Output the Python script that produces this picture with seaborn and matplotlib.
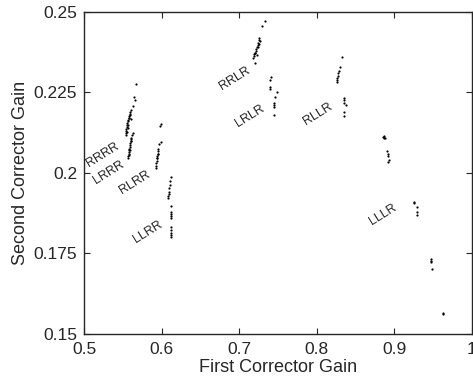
import pandas as pd
import matplotlib
matplotlib.use('Agg')
import matplotlib.pyplot as plt
import seaborn as sns

# point clusters (first gain, second gain)
rrrr_x = [0.5666, 0.5640, 0.5655, 0.5628, 0.5610, 0.5598, 0.5590, 0.5582, 0.5575, 0.5570, 0.5565, 0.5560,
          0.5556, 0.5552, 0.5548, 0.5545, 0.5540, 0.5537, 0.5580, 0.5595, 0.5605, 0.5572, 0.5562, 0.5550]
rrrr_y = [0.2277, 0.2235, 0.2228, 0.2208, 0.2195, 0.2188, 0.2182, 0.2176, 0.2170, 0.2165, 0.2160, 0.2154,
          0.2148, 0.2142, 0.2136, 0.2130, 0.2124, 0.2118, 0.2172, 0.2180, 0.2168, 0.2150, 0.2140, 0.2128]

lrrr_x = [0.5635, 0.5620, 0.5612, 0.5605, 0.5600, 0.5596, 0.5592, 0.5590, 0.5586, 0.5583, 0.5580, 0.5578,
          0.5575, 0.5572, 0.5570, 0.5600, 0.5588]
lrrr_y = [0.2125, 0.2118, 0.2110, 0.2104, 0.2098, 0.2092, 0.2086, 0.2080, 0.2075, 0.2070, 0.2065, 0.2060,
          0.2056, 0.2052, 0.2048, 0.2100, 0.2072]

rlrr_x = [0.5990, 0.5978, 0.5988, 0.5968, 0.5960, 0.5955, 0.5950, 0.5946, 0.5942, 0.5938, 0.5935, 0.5932,
          0.5930, 0.5945, 0.5952]
rlrr_y = [0.2152, 0.2145, 0.2095, 0.2090, 0.2075, 0.2068, 0.2060, 0.2052, 0.2045, 0.2038, 0.2030, 0.2022,
          0.2016, 0.2048, 0.2058]

llrr_x = [0.6118, 0.6112, 0.6105, 0.6100, 0.6095, 0.6090, 0.6088, 0.6085, 0.6128, 0.6122, 0.6120, 0.6120,
          0.6118, 0.6125, 0.6125, 0.6125, 0.6125, 0.6125]
llrr_y = [0.1988, 0.1975, 0.1962, 0.1952, 0.1942, 0.1935, 0.1928, 0.1922, 0.1898, 0.1880, 0.1872, 0.1866,
          0.1860, 0.1832, 0.1822, 0.1815, 0.1808, 0.1800]

rrlr_x = [0.7333, 0.7290, 0.7260, 0.7255, 0.7250, 0.7245, 0.7235, 0.7225, 0.7215, 0.7205, 0.7195, 0.7188,
          0.7182, 0.7210, 0.7240, 0.7230, 0.7260, 0.7265, 0.7200]
rrlr_y = [0.2473, 0.2455, 0.2420, 0.2412, 0.2405, 0.2398, 0.2392, 0.2386, 0.2380, 0.2374, 0.2368, 0.2362,
          0.2356, 0.2372, 0.2390, 0.2365, 0.2400, 0.2410, 0.2342]

lrlr_x = [0.7408, 0.7402, 0.7398, 0.7402, 0.7488, 0.7465, 0.7445, 0.7445, 0.7445, 0.7455]
lrlr_y = [0.2298, 0.2290, 0.2267, 0.2262, 0.2252, 0.2236, 0.2218, 0.2212, 0.2205, 0.2180]

rllr_x = [0.8334, 0.8300, 0.8290, 0.8280, 0.8275, 0.8268, 0.8262, 0.8258, 0.8350, 0.8352, 0.8355, 0.8375,
          0.8360, 0.8358]
rllr_y = [0.2360, 0.2329, 0.2318, 0.2310, 0.2302, 0.2295, 0.2288, 0.2282, 0.2233, 0.2226, 0.2218, 0.2210,
          0.2188, 0.2178]

lllr_x = [0.8854, 0.8870, 0.8880, 0.8865, 0.8910, 0.8925, 0.8915, 0.8935, 0.8925,
          0.9258, 0.9262, 0.9290, 0.9290, 0.9292,
          0.9480, 0.9482, 0.9478, 0.9490, 0.9628, 0.9632]
lllr_y = [0.2113, 0.2110, 0.2108, 0.2115, 0.2068, 0.2060, 0.2052, 0.2040, 0.2034,
          0.1911, 0.1908, 0.1895, 0.1878, 0.1868,
          0.1732, 0.1726, 0.1722, 0.1702, 0.1565, 0.1562]

# label text and where it sits
label_names = ['RRRR', 'LRRR', 'RLRR', 'LLRR', 'RRLR', 'LRLR', 'RLLR', 'LLLR']
label_x = [0.5245, 0.5320, 0.5657, 0.5825, 0.6946, 0.7140, 0.8017, 0.8855]
label_y = [0.2056, 0.2003, 0.1972, 0.1817, 0.2295, 0.2177, 0.2183, 0.1870]

clusters = {
    'RRRR': (rrrr_x, rrrr_y), 'LRRR': (lrrr_x, lrrr_y), 'RLRR': (rlrr_x, rlrr_y),
    'LLRR': (llrr_x, llrr_y), 'RRLR': (rrlr_x, rrlr_y), 'LRLR': (lrlr_x, lrlr_y),
    'RLLR': (rllr_x, rllr_y), 'LLLR': (lllr_x, lllr_y),
}
frames = [pd.DataFrame({'first': xs, 'second': ys, 'path': name}) for name, (xs, ys) in clusters.items()]
df = pd.concat(frames, ignore_index=True)

sns.set_style('ticks')
plt.rcParams['font.family'] = ['Liberation Sans', 'DejaVu Sans']

fig = plt.figure(figsize=(4.73, 3.83), dpi=100)
ax = fig.add_axes([0.1776, 0.128, 0.8195, 0.8407])
sns.scatterplot(data=df, x='first', y='second', color='black', s=2.5, linewidth=0, ax=ax, legend=False)

for name, lx, ly in zip(label_names, label_x, label_y):
    ax.text(lx, ly, name, fontsize=9, rotation=32, ha='center', va='center')

ax.set_xlim(0.5, 1.0)
ax.set_ylim(0.15, 0.25)
ax.set_xticks([0.5, 0.6, 0.7, 0.8, 0.9, 1.0])
ax.set_xticklabels(['0.5', '0.6', '0.7', '0.8', '0.9', '1'])
ax.set_yticks([0.15, 0.175, 0.2, 0.225, 0.25])
ax.set_yticklabels(['0.15', '0.175', '0.2', '0.225', '0.25'])
ax.tick_params(direction='in', top=True, right=True, labelsize=12.5, length=4, width=0.8)
ax.tick_params(axis='x', pad=6)
ax.tick_params(axis='y', pad=5)
for sp in ax.spines.values():
    sp.set_linewidth(1.0)
ax.set_xlabel('First Corrector Gain', fontsize=13, labelpad=1)
ax.set_ylabel('Second Corrector Gain', fontsize=13, labelpad=3)

fig.savefig('out.png', dpi=100)
